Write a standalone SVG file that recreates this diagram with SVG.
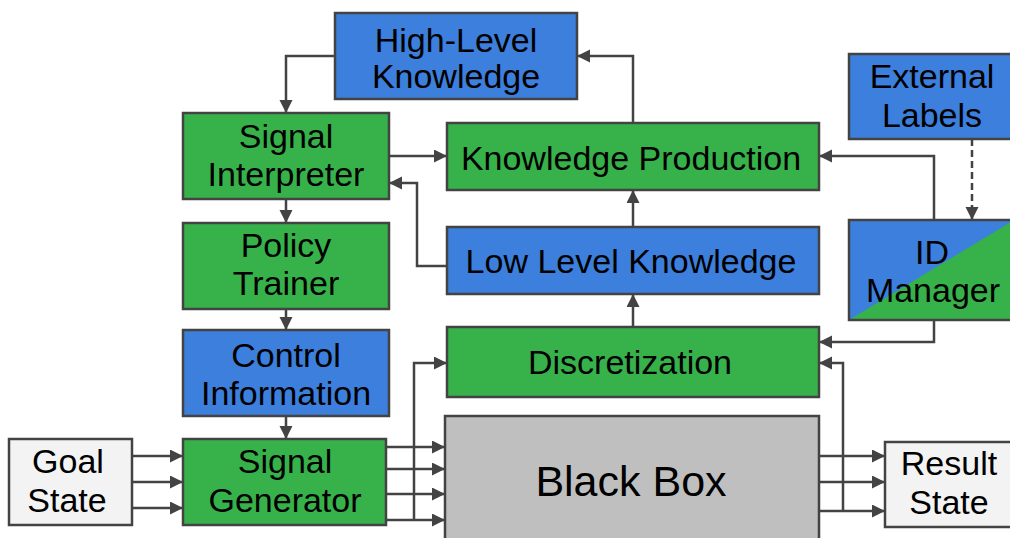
<svg xmlns="http://www.w3.org/2000/svg" width="1010" height="538" viewBox="0 0 1010 538">
<defs>
<marker id="ah" markerUnits="userSpaceOnUse" markerWidth="14" markerHeight="14" refX="13" refY="6.5" orient="auto">
<path d="M0,0 L13,6.5 L0,13 z" fill="#434343"/>
</marker>
<clipPath id="idclip"><rect x="849" y="220" width="165" height="100"/></clipPath>
</defs>
<style>
.box{stroke:#434343;stroke-width:2.5}
.blue{fill:#3c7fdd}
.green{fill:#37b24a}
.gray{fill:#bfbfbf}
.light{fill:#f3f3f3}
text{font-family:"Liberation Sans",Arial,sans-serif;font-size:34px;fill:#000;text-anchor:middle}
.big{font-size:43px}
.conn{fill:none;stroke:#434343;stroke-width:2.5}
.arr{marker-end:url(#ah)}
.dash{stroke-dasharray:7,4}
</style>
<rect width="1010" height="538" fill="#fff"/>
<g id="connectors">
<path class="conn arr" d="M335,56 H286 V113"/>
<path class="conn arr" d="M389,156 H447"/>
<path class="conn arr" d="M633,123 V56 H577"/>
<path class="conn arr" d="M447,266 H417 V183 H389"/>
<path class="conn arr" d="M286,199 V223"/>
<path class="conn arr" d="M286,309 V330"/>
<path class="conn arr" d="M286,416 V439"/>
<path class="conn arr" d="M633,227 V190"/>
<path class="conn arr" d="M633,327 V294"/>
<path class="conn arr dash" d="M972,139 V220"/>
<path class="conn arr" d="M934,220 V156 H819"/>
<path class="conn arr" d="M934,320 V342 H819"/>
<path class="conn arr" d="M132,456 H183"/>
<path class="conn arr" d="M132,482 H183"/>
<path class="conn arr" d="M132,508 H183"/>
<path class="conn arr" d="M386,447 H445"/>
<path class="conn arr" d="M386,469 H445"/>
<path class="conn arr" d="M386,494 H445"/>
<path class="conn arr" d="M386,520 H445"/>
<path class="conn arr" d="M414,520 V363 H447"/>
<path class="conn arr" d="M819,456 H885"/>
<path class="conn arr" d="M819,482 H885"/>
<path class="conn arr" d="M819,511 H885"/>
<path class="conn arr" d="M843,511 V363 H819"/>
</g>
<g id="high-level-knowledge">
<rect class="box blue" x="335" y="13" width="242" height="86"/>
<text x="456" y="52">High-Level</text>
<text x="456" y="88">Knowledge</text>
</g>
<g id="signal-interpreter">
<rect class="box green" x="183" y="113" width="206" height="86"/>
<text x="286" y="148">Signal</text>
<text x="286" y="186">Interpreter</text>
</g>
<g id="knowledge-production">
<rect class="box green" x="447" y="123" width="372" height="67"/>
<text x="631" y="170">Knowledge Production</text>
</g>
<g id="policy-trainer">
<rect class="box green" x="183" y="223" width="206" height="86"/>
<text x="286" y="257">Policy</text>
<text x="286" y="295">Trainer</text>
</g>
<g id="low-level-knowledge">
<rect class="box blue" x="447" y="227" width="372" height="67"/>
<text x="631" y="273">Low Level Knowledge</text>
</g>
<g id="control-information">
<rect class="box blue" x="183" y="330" width="206" height="86"/>
<text x="286" y="367">Control</text>
<text x="286" y="405">Information</text>
</g>
<g id="discretization">
<rect class="box green" x="447" y="327" width="372" height="70"/>
<text x="630" y="374">Discretization</text>
</g>
<g id="goal-state">
<rect class="box light" x="9" y="439" width="123" height="86"/>
<text x="68" y="473">Goal</text>
<text x="67" y="512">State</text>
</g>
<g id="signal-generator">
<rect class="box green" x="183" y="439" width="203" height="86"/>
<text x="285" y="473">Signal</text>
<text x="285" y="512">Generator</text>
</g>
<g id="black-box">
<rect class="box gray" x="445" y="416" width="374" height="130"/>
<text class="big" x="631" y="496">Black Box</text>
</g>
<g id="result-state">
<rect class="box light" x="885" y="442" width="128" height="85"/>
<text x="949" y="475">Result</text>
<text x="949" y="514">State</text>
</g>
<g id="external-labels">
<rect class="box blue" x="849" y="54" width="165" height="85"/>
<text x="932" y="88">External</text>
<text x="932" y="127">Labels</text>
</g>
<g id="id-manager">
<rect class="blue" x="849" y="220" width="165" height="100"/>
<polygon class="green" points="849,320 1014,220 1014,320" clip-path="url(#idclip)"/>
<rect x="849" y="220" width="165" height="100" fill="none" stroke="#434343" stroke-width="2.5"/>
<text x="932" y="264">ID</text>
<text x="933" y="302">Manager</text>
</g>
</svg>
